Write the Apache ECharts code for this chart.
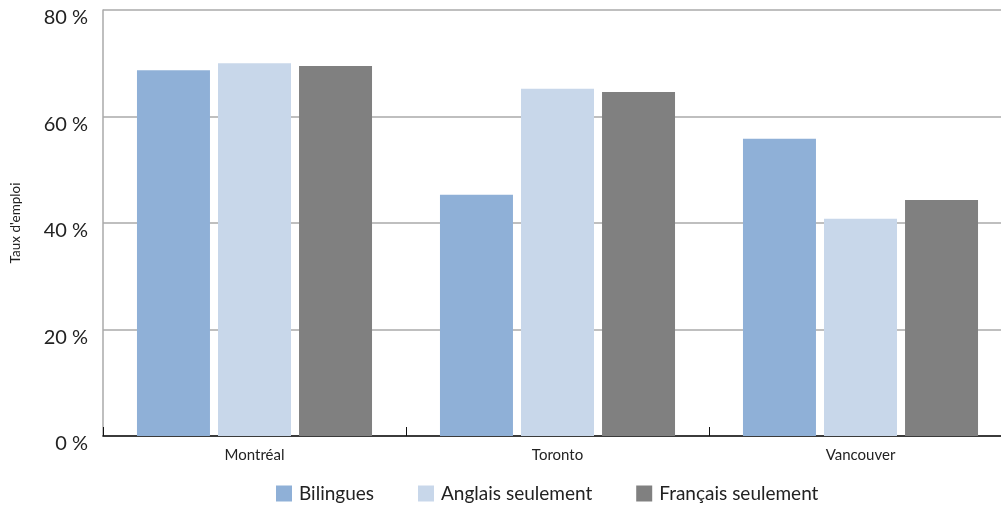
<!DOCTYPE html>
<html>
<head>
<meta charset="utf-8">
<script src="https://cdn.jsdelivr.net/npm/echarts@6/dist/echarts.min.js"></script>
<style>
  html, body { margin: 0; padding: 0; background: #fff; }
  #chart { width: 1001px; height: 505px; }
</style>
</head>
<body>
<div id="chart"></div>
<script>
  // données
  const villes = ['Montréal', 'Toronto', 'Vancouver']
  const bilingues = [68.7, 45.3, 55.8]
  const anglaisSeul = [70.0, 65.2, 40.8]
  const francaisSeul = [69.5, 64.6, 44.3]

  const chart = echarts.init(document.getElementById('chart'))
  const font = 'Lato, "Noto Sans", sans-serif'

  const option = {
    animation: false,
    textStyle: { fontFamily: font },
    grid: { left: 103, top: 10, bottom: 69, width: 909, outerBoundsMode: 'none' },
    legend: {
      top: 479,
      left: 271,
      itemWidth: 16,
      itemHeight: 16,
      itemGap: 44,
      icon: 'rect',
      textStyle: { fontSize: 19, color: '#222', fontFamily: font, padding: [0, 0, 0, 2] },
      data: ['Bilingues', 'Anglais seulement', 'Français seulement']
    },
    xAxis: {
      type: 'category',
      data: villes,
      axisLine: { lineStyle: { color: '#111', width: 1.5 } },
      axisTick: { show: true, inside: true, length: 9, lineStyle: { color: '#111' } },
      axisLabel: { fontSize: 15, color: '#222', margin: 12 }
    },
    yAxis: {
      type: 'value',
      min: 0,
      max: 80,
      interval: 20,
      name: "Taux d'emploi",
      nameLocation: 'middle',
      nameGap: 80,
      nameTextStyle: { fontSize: 13.5, color: '#222' },
      axisLine: { show: true, lineStyle: { color: '#aaa', width: 1.5 } },
      axisTick: { show: false },
      axisLabel: {
        formatter: '{value} %', fontSize: 20, color: '#222', margin: 15,
        verticalAlign: 'top', lineHeight: 16
      },
      splitLine: { lineStyle: { color: '#aaa', width: 1.5 } }
    },
    series: [
      {
        name: 'Bilingues', type: 'bar', data: bilingues,
        barWidth: 73, barGap: '11%',
        itemStyle: { color: '#8fb0d7' }
      },
      {
        name: 'Anglais seulement', type: 'bar', data: anglaisSeul,
        barWidth: 73, barGap: '11%',
        itemStyle: { color: '#c8d7ea' }
      },
      {
        name: 'Français seulement', type: 'bar', data: francaisSeul,
        barWidth: 73, barGap: '11%',
        itemStyle: { color: '#808080' }
      }
    ]
  }
  chart.setOption(option)
</script>
</body>
</html>
